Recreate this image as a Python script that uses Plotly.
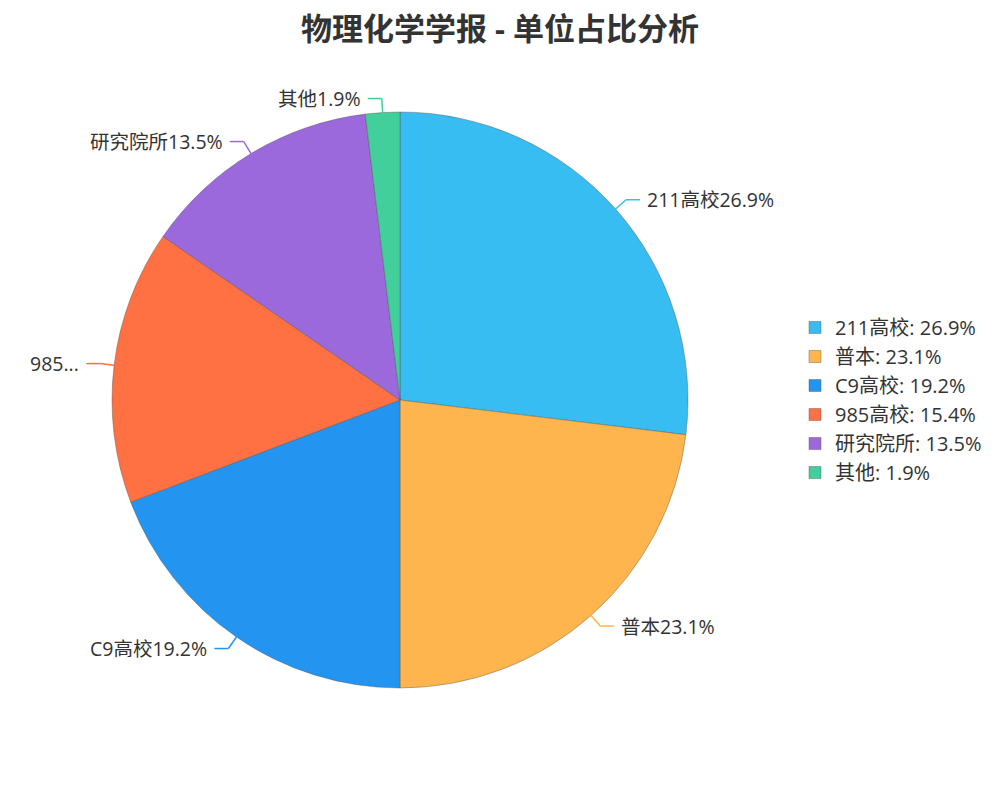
import math
import plotly.graph_objects as go

# 数据
categories = ["211高校", "普本", "C9高校", "985高校", "研究院所", "其他"]
counts = [14, 12, 10, 8, 7, 1]
colors = ["#38BDF2", "#FFB54D", "#2395F1", "#FF7043", "#9B69DC", "#42CF9C"]
outside_text = ["211高校26.9%", "普本23.1%", "C9高校19.2%", "985...", "研究院所13.5%", "其他1.9%"]

W, H = 1000, 800
OFF = 8  # page body margin
cx, cy, R = 400 - OFF, 400 - OFF, 288
FONT = "Open Sans, Noto Sans CJK SC, sans-serif"

total = sum(counts)
pcts = [c / total * 100 for c in counts]
legend_labels = [f"{n}: {p:.1f}%" for n, p in zip(categories, pcts)]

fig = go.Figure()
fig.add_trace(go.Pie(
    labels=legend_labels,
    values=counts,
    sort=False,
    direction="clockwise",
    rotation=0,
    marker=dict(colors=colors, line=dict(color="rgba(80,80,80,0.4)", width=1)),
    textinfo="none",
    hoverinfo="label",
    domain=dict(x=[(cx - R) / W, (cx + R) / W], y=[(H - cy - R) / H, (H - cy + R) / H]),
))

# 外部标签 + 引导线
def to_paper(px, py):
    return px / W, 1 - py / H

shapes = []
annotations = []
acc = 0
for i, c in enumerate(counts):
    mid = (acc + c / 2) / total * 2 * math.pi
    acc += c
    s, co = math.sin(mid), math.cos(mid)
    x1, y1 = cx + R * s, cy - R * co
    x2, y2 = cx + (R + 14) * s, cy - (R + 14) * co
    side = 1 if s >= 0 else -1
    x3 = x2 + side * 14
    for (a, b), (c2, d) in [((x1, y1), (x2, y2)), ((x2, y2), (x3, y2))]:
        p0 = to_paper(a, b)
        p1 = to_paper(c2, d)
        shapes.append(dict(type="line", xref="paper", yref="paper",
                           x0=p0[0], y0=p0[1], x1=p1[0], y1=p1[1],
                           line=dict(color=colors[i], width=1.5)))
    tx, ty = to_paper(x3 + side * 5, y2)
    annotations.append(dict(x=tx, y=ty, xref="paper", yref="paper",
                            text=outside_text[i], showarrow=False,
                            xanchor="left" if side > 0 else "right", yanchor="middle",
                            font=dict(size=19.5, color="#333333", family=FONT)))

fig.update_layout(
    width=W, height=H,
    margin=dict(l=0, r=0, t=0, b=0),
    paper_bgcolor="white",
    title=dict(text="<b>物理化学学报 - 单位占比分析</b>", x=(500 - OFF) / W, xanchor="center",
               y=1 - (29 - OFF) / H, yanchor="middle",
               font=dict(size=31, color="#333333", family=FONT)),
    legend=dict(x=(795 - OFF) / W, y=1 - (308 - OFF) / H, xanchor="left", yanchor="top",
                font=dict(size=20, color="#333333", family=FONT),
                itemwidth=30, tracegroupgap=0),
    shapes=shapes,
    annotations=annotations,
)

fig.write_html("out.html")
